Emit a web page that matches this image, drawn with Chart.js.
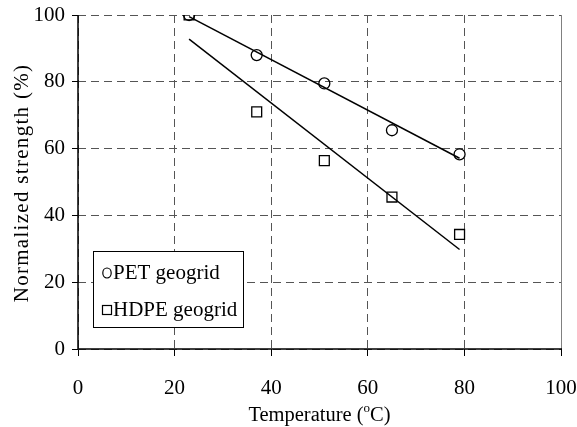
<!DOCTYPE html>
<html>
<head>
<meta charset="utf-8">
<script src="https://cdn.jsdelivr.net/npm/chart.js@4"></script>
<style>
  body { margin: 0; background: #fff; }
  #wrap { width: 577px; height: 427px; }
</style>
</head>
<body>
<div id="wrap"><canvas id="chart" width="577" height="427"></canvas></div>
<script>
// values
const temps = [23, 37, 51, 65, 79]
const petStrength = [100, 88, 79.5, 65.5, 58.3]
const hdpeStrength = [100, 71, 56.4, 45.5, 34.3]
const petTrend = [[23, 99.5], [79, 57.1]]
const hdpeTrend = [[23, 92.8], [79, 29.8]]
const xTicks = [0, 20, 40, 60, 80, 100]
const yTicks = [0, 20, 40, 60, 80, 100]
const legendNames = ['PET geogrid', 'HDPE geogrid']
const xTitle = ['Temperature (', 'o', 'C)']
const yTitle = 'Normalized strength (%)'

const serif = '"Liberation Serif", "Times New Roman", serif'

const toPoints = (xs, ys) => xs.map((x, i) => ({x: x, y: ys[i]}))
const toLine = arr => arr.map(p => ({x: p[0], y: p[1]}))

// axis lines, titles, right border and the boxed legend inside the plot
const extras = {
  id: 'extras',
  afterDraw(chart) {
    const ctx = chart.ctx
    const a = chart.chartArea
    ctx.save()

    // right frame line
    ctx.strokeStyle = '#808080'
    ctx.lineWidth = 1
    ctx.beginPath()
    ctx.moveTo(a.right + 0.5, a.top)
    ctx.lineTo(a.right + 0.5, a.bottom)
    ctx.stroke()

    // solid left and bottom axes
    ctx.strokeStyle = '#000'
    ctx.lineWidth = 1.5
    ctx.beginPath()
    ctx.moveTo(a.left, a.top)
    ctx.lineTo(a.left, a.bottom)
    ctx.lineTo(a.right + 1, a.bottom)
    ctx.stroke()

    // x title with raised "o"
    ctx.fillStyle = '#000'
    ctx.textBaseline = 'alphabetic'
    ctx.font = '20.5px ' + serif
    const w1 = ctx.measureText(xTitle[0]).width
    const w3 = ctx.measureText(xTitle[2]).width
    ctx.font = '13px ' + serif
    const w2 = ctx.measureText(xTitle[1]).width
    let x = (a.left + a.right) / 2 - (w1 + w2 + w3) / 2
    const base = 421
    ctx.font = '20.5px ' + serif
    ctx.textAlign = 'left'
    ctx.fillText(xTitle[0], x, base)
    x += w1
    ctx.font = '13px ' + serif
    ctx.fillText(xTitle[1], x, base - 9)
    x += w2
    ctx.font = '20.5px ' + serif
    ctx.fillText(xTitle[2], x, base)

    // y title
    ctx.save()
    ctx.translate(22, (a.top + a.bottom) / 2 + 1)
    ctx.rotate(-Math.PI / 2)
    ctx.font = '21px ' + serif
    ctx.letterSpacing = '1.3px'
    ctx.textAlign = 'center'
    ctx.textBaseline = 'middle'
    ctx.fillText(yTitle, 0, 0)
    ctx.restore()

    // legend box
    const bx = 93, by = 251, bw = 150, bh = 76
    ctx.fillStyle = '#fff'
    ctx.fillRect(bx, by, bw, bh)
    ctx.strokeStyle = '#000'
    ctx.lineWidth = 1
    ctx.strokeRect(bx + 0.5, by + 0.5, bw, bh)
    ctx.lineWidth = 1.2
    ctx.beginPath()
    ctx.ellipse(107, 273, 4.2, 5, 0, 0, Math.PI * 2)
    ctx.stroke()
    ctx.strokeRect(102.5, 305.5, 9, 9)
    ctx.fillStyle = '#000'
    ctx.font = '21px ' + serif
    ctx.textAlign = 'left'
    ctx.textBaseline = 'middle'
    ctx.fillText(legendNames[0], 113, 273)
    ctx.fillText(legendNames[1], 113, 310)
    ctx.restore()
  }
}

const gridColor = '#555'

new Chart(document.getElementById('chart'), {
  type: 'scatter',
  data: {
    datasets: [
      {
        label: legendNames[0],
        data: toPoints(temps, petStrength),
        pointStyle: 'circle',
        pointRadius: 5.5,
        borderColor: '#000',
        backgroundColor: 'rgba(0,0,0,0)',
        borderWidth: 1.3
      },
      {
        label: legendNames[1],
        data: toPoints(temps, hdpeStrength),
        pointStyle: 'rect',
        pointRadius: 7,
        borderColor: '#000',
        backgroundColor: 'rgba(0,0,0,0)',
        borderWidth: 1.3
      },
      {
        type: 'line',
        data: toLine(petTrend),
        showLine: true,
        pointRadius: 0,
        borderColor: '#000',
        borderWidth: 1.5
      },
      {
        type: 'line',
        data: toLine(hdpeTrend),
        showLine: true,
        pointRadius: 0,
        borderColor: '#000',
        borderWidth: 1.5
      }
    ]
  },
  options: {
    responsive: false,
    animation: false,
    devicePixelRatio: 1,
    layout: { padding: { left: 0, top: 15, right: 16, bottom: 0 } },
    plugins: {
      legend: { display: false },
      tooltip: { enabled: false }
    },
    scales: {
      x: {
        type: 'linear',
        min: 0,
        max: 100,
        afterBuildTicks: s => { s.ticks = xTicks.map(v => ({value: v})) },
        afterFit: s => {
          s.height = 78
          s.paddingLeft = 0
          s.paddingRight = 0
        },
        ticks: {
          color: '#000',
          font: { family: serif, size: 21 },
          padding: 20,
          maxRotation: 0
        },
        grid: {
          color: gridColor,
          lineWidth: 1,
          tickLength: 7,
          tickColor: '#000',
          tickWidth: 1
        },
        border: { display: false, dash: [8, 5] }
      },
      y: {
        type: 'linear',
        min: 0,
        max: 100,
        afterBuildTicks: s => { s.ticks = yTicks.map(v => ({value: v})) },
        afterFit: s => {
          s.width = 78
          s.paddingTop = 0
          s.paddingBottom = 0
        },
        ticks: {
          color: '#000',
          font: { family: serif, size: 21 },
          padding: 7
        },
        grid: {
          color: gridColor,
          lineWidth: 1,
          tickLength: 6,
          tickColor: '#000',
          tickWidth: 1
        },
        border: { display: false, dash: [8, 5] }
      }
    }
  },
  plugins: [extras]
})
</script>
</body>
</html>
